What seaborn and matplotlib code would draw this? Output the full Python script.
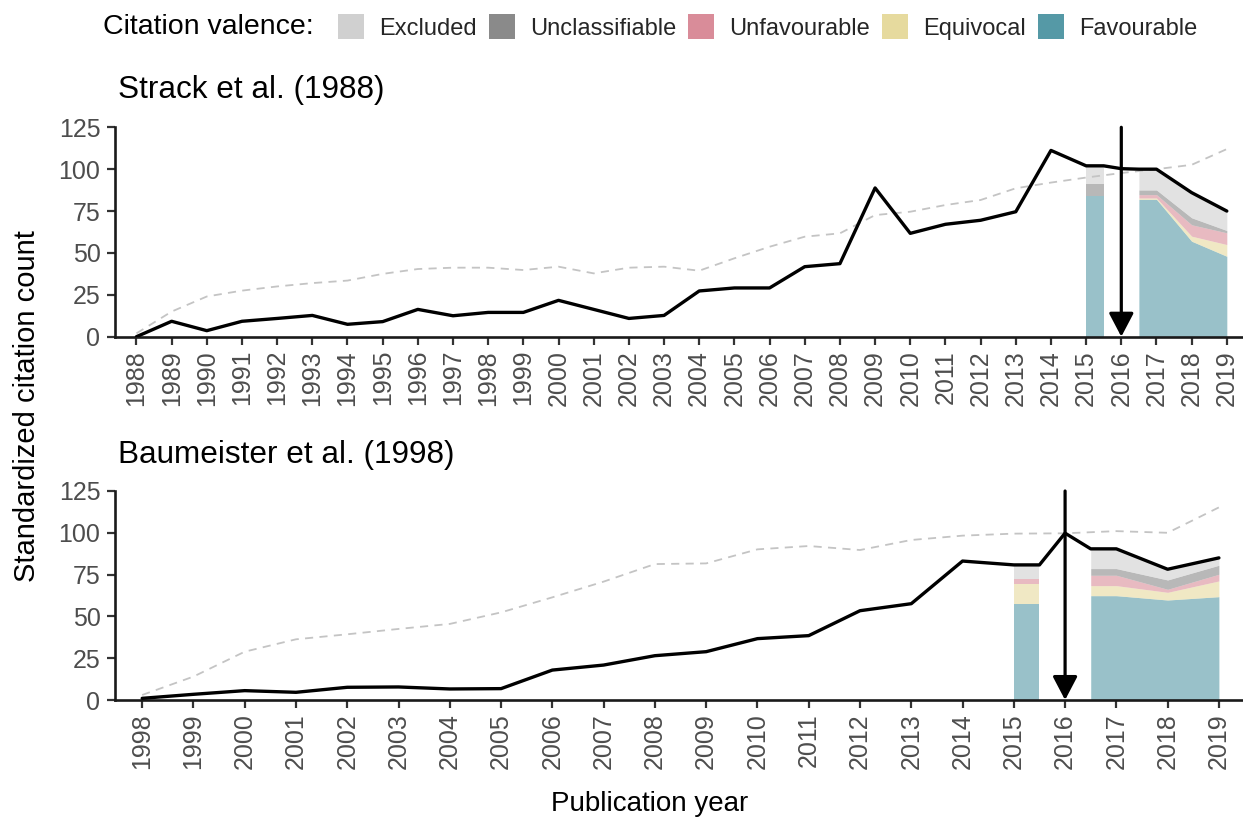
import numpy as np
import pandas as pd
import matplotlib
matplotlib.use("Agg")
import matplotlib.pyplot as plt
from matplotlib.patches import Patch
import seaborn as sns

# ---------------------------------------------------------------- data
replication_year = 2016

strack_years = list(range(1988, 2020))
strack_total = [0, 9.2, 3.6, 9.2, 10.9, 12.7, 7.4, 9.0, 16.3, 12.5, 14.5, 14.5,
                21.7, 16.3, 10.9, 12.7, 27.3, 29.1, 29.1, 41.8, 43.6, 88.8,
                61.7, 67.1, 69.5, 74.6, 111.2, 102.0, 100.3, 100.0, 86.0, 75.0]
strack_reference = [2, 15, 24, 27.5, 30, 32, 33.5, 37.5, 40.4, 41.2, 41.2, 39.8,
                    41.8, 37.8, 41.2, 41.8, 39.4, 46.8, 53.7, 59.7, 61.7, 72.6,
                    74.6, 78.6, 81.6, 88.6, 92.0, 95.0, 97.7, 100.0, 102.6, 112.0]

baum_years = list(range(1998, 2020))
baum_total = [1.0, 3.4, 5.6, 4.6, 7.6, 7.8, 6.6, 6.8, 17.9, 20.9, 26.5, 28.9,
              36.7, 38.5, 53.4, 57.6, 83.1, 80.8, 99.8, 90.4, 78.2, 85.0]
baum_reference = [3, 14, 28.9, 36.3, 39.3, 42.5, 45.5, 52.4, 61.4, 70.8, 81.3,
                  81.7, 90.1, 92.1, 89.7, 95.7, 98.3, 99.5, 99.7, 101.0, 100.0, 115.2]

valence_years = [2015, 2017, 2018, 2019]
valence_labels = ["Favourable", "Equivocal", "Unfavourable", "Unclassifiable", "Excluded"]
valence_colors = ["#5599a6", "#e6da9e", "#d98c99", "#8a8a8a", "#d0d0d0"]

strack_favourable = [84.0, 82.0, 57.0, 48.0]
strack_equivocal = [0.0, 0.8, 3.0, 7.0]
strack_unfavourable = [0.0, 2.0, 6.8, 7.0]
strack_unclassifiable = [7.0, 2.8, 4.2, 1.4]
strack_excluded = [11.0, 12.4, 15.0, 11.6]

baum_favourable = [57.2, 62.4, 59.8, 61.8]
baum_equivocal = [12.2, 6.0, 4.6, 9.4]
baum_unfavourable = [2.8, 6.2, 1.8, 4.0]
baum_unclassifiable = [0.4, 4.0, 5.6, 5.4]
baum_excluded = [8.2, 11.8, 6.4, 4.4]

y_ticks = [0, 25, 50, 75, 100, 125]

# ---------------------------------------------------------------- style
sns.set_theme(style="ticks")
plt.rcParams["font.family"] = ["Liberation Sans", "DejaVu Sans"]

W, H = 1243, 818
fig = plt.figure(figsize=(W / 100, H / 100), dpi=100)

TICK_GREY = "#4d4d4d"


def make_axes(left_px, right_px, top_px, bottom_px):
    return fig.add_axes([left_px / W, 1 - bottom_px / H,
                         (right_px - left_px) / W, (bottom_px - top_px) / H])


def draw_panel(ax, years, total, reference, parts, xlim, title, title_y_px):
    years = np.asarray(years, dtype=float)
    total = np.asarray(total, dtype=float)
    vyears = np.asarray(valence_years, dtype=float)
    stack = np.vstack([np.asarray(p, dtype=float) for p in parts])

    # stacked valence areas, split around the replication year
    before = vyears < replication_year
    after = vyears > replication_year
    for mask, side in ((before, -1), (after, 1)):
        xs = vyears[mask]
        ys = stack[:, mask]
        if side < 0:
            xs = np.append(xs, replication_year - 0.5)
            ys = np.hstack([ys, ys[:, -1:]])
        else:
            xs = np.insert(xs, 0, replication_year + 0.5)
            ys = np.hstack([ys[:, :1], ys])
        ax.stackplot(xs, ys, colors=valence_colors, alpha=0.6, linewidth=0, zorder=1)

    # reference trend (dashed)
    ref_df = pd.DataFrame({"year": years, "value": reference})
    sns.lineplot(data=ref_df, x="year", y="value", ax=ax, color="#c4c4c4",
                 linewidth=1.3, linestyle=(0, (4.5, 3.5)), zorder=2)

    # citation total, held flat half a year either side of the gap
    i_prev = int(np.where(years == replication_year - 1)[0][0])
    i_next = int(np.where(years == replication_year + 1)[0][0])
    line_x = np.concatenate([years, [replication_year - 0.5, replication_year + 0.5]])
    line_y = np.concatenate([total, [total[i_prev], total[i_next]]])
    order = np.argsort(line_x)
    tot_df = pd.DataFrame({"year": line_x[order], "value": line_y[order]})
    sns.lineplot(data=tot_df, x="year", y="value", ax=ax, color="black",
                 linewidth=2.4, sort=False, zorder=3)

    # replication marker
    ax.annotate("", xy=(replication_year, 0), xytext=(replication_year, 125),
                arrowprops=dict(arrowstyle="-|>,head_length=0.8,head_width=0.42",
                                color="black", lw=2.3, shrinkA=0, shrinkB=0,
                                mutation_scale=18),
                zorder=4, annotation_clip=False)

    ax.set_xlim(*xlim)
    ax.set_ylim(0, 125)
    ax.set_xticks(years)
    ax.set_xticklabels([str(int(y)) for y in years], rotation=90,
                       fontsize=18, color=TICK_GREY)
    ax.set_yticks(y_ticks)
    ax.set_yticklabels([str(t) for t in y_ticks], fontsize=18, color=TICK_GREY)
    ax.set_xlabel("")
    ax.set_ylabel("")
    ax.tick_params(axis="both", length=6, width=1.6, color="#333333", pad=3.5)
    ax.tick_params(axis="y", pad=4.5)
    sns.despine(ax=ax)
    for s in ("left", "bottom"):
        ax.spines[s].set_linewidth(1.9)
        ax.spines[s].set_color("#1a1a1a")
    ax.patch.set_alpha(0)

    fig.text(118 / W, 1 - title_y_px / H, title, fontsize=22.7, color="black",
             ha="left", va="center")


ax_top = make_axes(115, 1243, 127.3, 336.7)
ax_bot = make_axes(115, 1243, 491.0, 700.0)

draw_panel(ax_top, strack_years, strack_total, strack_reference,
           [strack_favourable, strack_equivocal, strack_unfavourable,
            strack_unclassifiable, strack_excluded],
           (1987.39, 2019.46), "Strack et al. (1988)", 90)

draw_panel(ax_bot, baum_years, baum_total, baum_reference,
           [baum_favourable, baum_equivocal, baum_unfavourable,
            baum_unclassifiable, baum_excluded],
           (1997.47, 2019.47), "Baumeister et al. (1998)", 455)

# shared axis titles
fig.text(27 / W, 1 - 406 / H, "Standardized citation count", rotation=90,
         fontsize=21, ha="center", va="center", color="black")
fig.text(650 / W, 1 - 811 / H, "Publication year", fontsize=20,
         ha="center", va="baseline", color="black")

# legend across the top
fig.text(103 / W, 1 - 27 / H, "Citation valence:", fontsize=20.5,
         ha="left", va="center", color="black")
legend_order = ["Excluded", "Unclassifiable", "Unfavourable", "Equivocal", "Favourable"]
color_of = dict(zip(valence_labels, valence_colors))
handles = [Patch(facecolor=color_of[k], edgecolor="none", label=k) for k in legend_order]
fig.legend(handles=handles, loc="center left", bbox_to_anchor=(338 / W, 1 - 27 / H),
           ncol=5, frameon=False, fontsize=17, handlelength=1.1,
           handleheight=1.2, handletextpad=0.65, columnspacing=0.5,
           borderpad=0, borderaxespad=0)

fig.savefig("out.png", dpi=100, facecolor="white")
